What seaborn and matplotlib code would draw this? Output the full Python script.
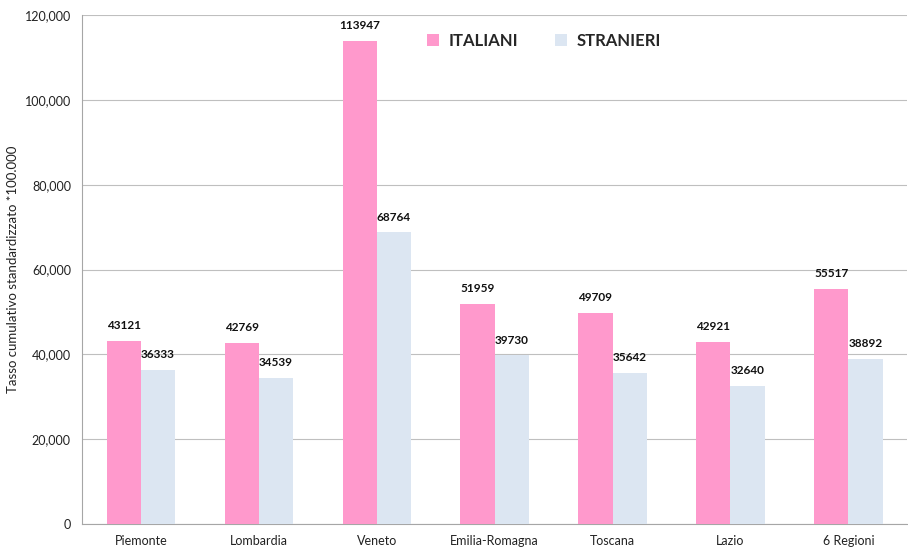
import matplotlib
matplotlib.use("Agg")
import matplotlib.pyplot as plt
import seaborn as sns
import pandas as pd
from matplotlib.ticker import FuncFormatter
from matplotlib.patches import Patch

regioni = ["Piemonte", "Lombardia", "Veneto", "Emilia-Romagna", "Toscana", "Lazio", "6 Regioni"]
italiani = [43121, 42769, 113947, 51959, 49709, 42921, 55517]
stranieri = [36333, 34539, 68764, 39730, 35642, 32640, 38892]
gruppi = ["ITALIANI", "STRANIERI"]
colori = ["#FF99CC", "#DCE6F2"]

df = pd.DataFrame({
    "regione": regioni * 2,
    "gruppo": [gruppi[0]] * len(regioni) + [gruppi[1]] * len(regioni),
    "valore": italiani + stranieri,
})

sns.set_style("white")
plt.rcParams["font.family"] = ["Lato", "DejaVu Sans"]

fig = plt.figure(figsize=(9.08, 5.49), dpi=100)
ax = fig.add_axes([0.0903, 0.0455, 0.909, 0.9272])

sns.barplot(data=df, x="regione", y="valore", hue="gruppo", palette=colori,
            width=0.58, saturation=1, ax=ax, legend=False, zorder=3,
            linewidth=0, edgecolor="none")

for cont in ax.containers:
    ax.bar_label(cont, labels=[f"{int(v)}" for v in cont.datavalues],
                 padding=7, fontsize=8.5, fontweight="bold", color="#111111")

ax.set_ylim(0, 120000)
ax.set_yticks(range(0, 120001, 20000))
ax.yaxis.set_major_formatter(FuncFormatter(lambda v, p: f"{int(v):,}"))
ax.set_xlim(-0.5, len(regioni) - 0.5)
ax.grid(axis="y", color="#BFBFBF", linewidth=0.8, zorder=0)
ax.set_axisbelow(True)

for s in ["top", "right"]:
    ax.spines[s].set_visible(False)
ax.spines["left"].set_color("#A6A6A6")
ax.spines["bottom"].set_color("#A6A6A6")
ax.tick_params(axis="y", length=4, color="#A6A6A6", labelsize=9, labelcolor="#222222", pad=4)
ax.tick_params(axis="x", length=0, labelsize=9, labelcolor="#222222", pad=8)

ax.set_xlabel("")
ax.set_ylabel("Tasso cumulativo standardizzato *100.000", fontsize=9.5, color="#222222", labelpad=4)

handles = [Patch(facecolor=c, edgecolor="none") for c in colori]
ax.legend(handles, gruppi, ncol=2, frameon=False, loc="upper left",
          bbox_to_anchor=(0.4, 0.995), prop={"weight": "bold", "size": 12},
          handlelength=0.7, handleheight=0.7, columnspacing=2.2, handletextpad=0.6)

fig.savefig("out.png", dpi=100)
